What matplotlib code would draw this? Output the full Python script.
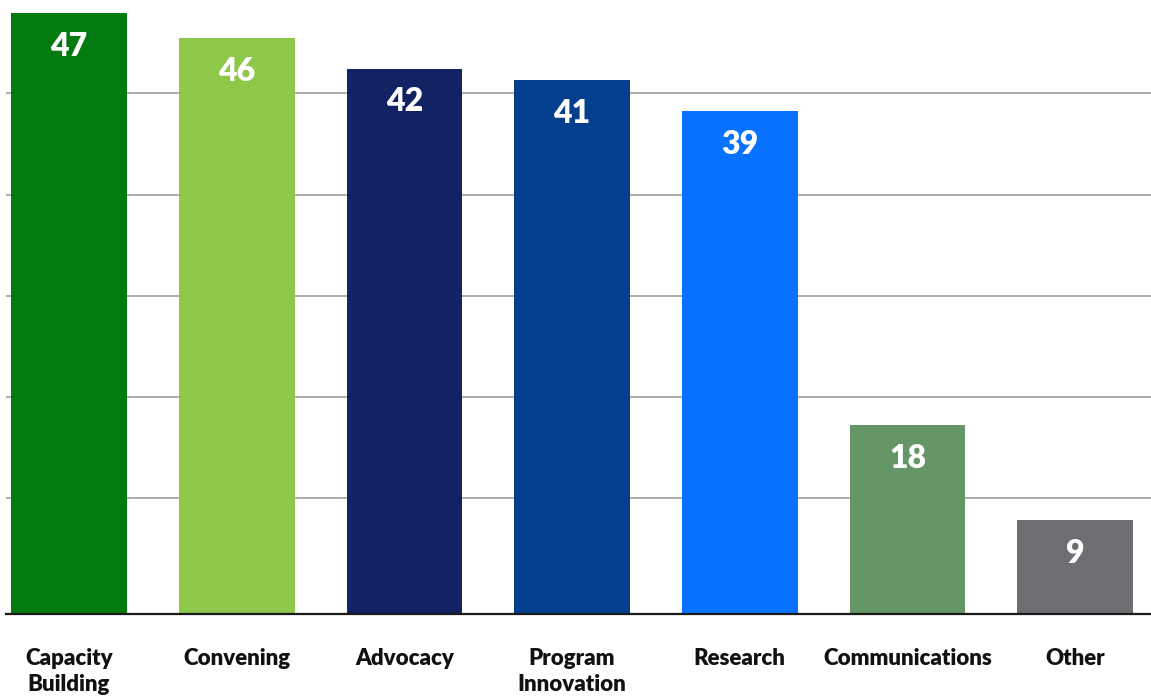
import matplotlib
matplotlib.use("Agg")
import matplotlib.pyplot as plt
import numpy as np

categories = ["Capacity\nBuilding", "Convening", "Advocacy", "Program\nInnovation",
              "Research", "Communications", "Other"]
bar_heights = [59.4, 56.9, 53.9, 52.8, 49.7, 18.7, 9.3]
value_labels = ["47", "46", "42", "41", "39", "18", "9"]
colors = ["#027A0F", "#8DC84A", "#112363", "#043F8F", "#0772FF", "#659667", "#6D6E72"]
grid_levels = [11.46, 21.46, 31.46, 41.46, 51.46]

plt.rcParams['font.family'] = ['Lato', 'DejaVu Sans']

fig = plt.figure(figsize=(11.51, 6.98), dpi=100)
ax = fig.add_axes([6/1151, (698-614.3)/698, 1145/1151, 614.3/698])

x = np.arange(len(categories))
bars = ax.bar(x, bar_heights, width=0.69, color=colors, zorder=2)

ax.set_xlim(-0.3757, 6.452)
ax.set_ylim(0, 60.67)
ax.set_yticks(grid_levels)
ax.yaxis.grid(True, color="#A6A6A6", linewidth=1.3, zorder=0)
ax.set_axisbelow(True)
ax.tick_params(axis='y', left=False, labelleft=False)
ax.tick_params(axis='x', bottom=False, pad=21)
ax.set_xticks(x)
ax.set_xticklabels(categories, fontsize=16, fontweight='heavy', color='#111111',
                   linespacing=1.3, va='top')

for s in ['top', 'right', 'left']:
    ax.spines[s].set_visible(False)
ax.spines['bottom'].set_color('#1a1a1a')
ax.spines['bottom'].set_linewidth(1.6)
ax.spines['bottom'].set_zorder(3)

for b, lab in zip(bars, value_labels):
    ax.annotate(lab, (b.get_x() + b.get_width()/2, b.get_height()),
                xytext=(0, -24), textcoords='offset points',
                ha='center', va='center', color='white',
                fontsize=23, fontweight='heavy', zorder=4)

fig.savefig("out.png", dpi=100)
